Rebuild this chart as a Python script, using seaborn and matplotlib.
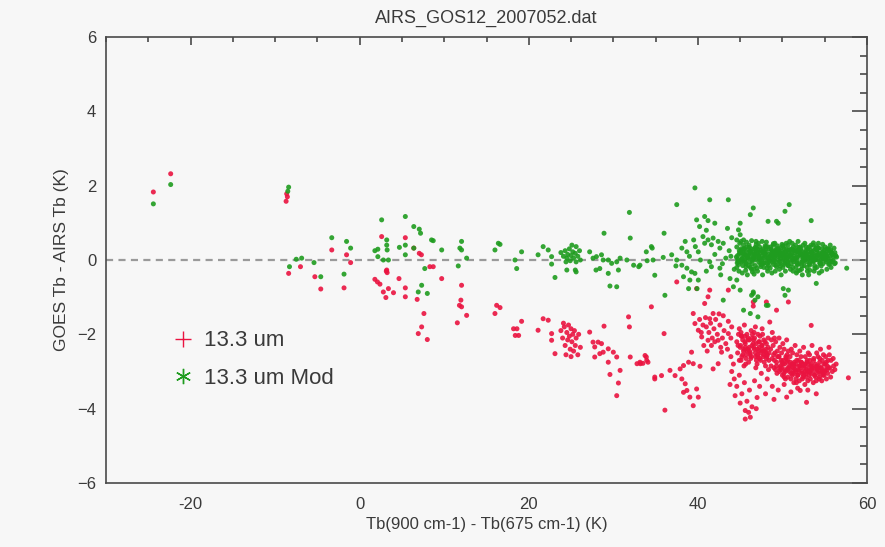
import numpy as np
import pandas as pd
import matplotlib
matplotlib.use("Agg")
import matplotlib.pyplot as plt
from matplotlib import font_manager as fm
from matplotlib.lines import Line2D
from matplotlib.ticker import MultipleLocator
import seaborn as sns

# ---- data: Tb(900)-Tb(675) difference vs GOES-AIRS Tb bias ----
# 13.3 um channel (red), sparse part
raw_sparse_x = [-24.4, -22.35, -8.63, -8.55, -8.7, -8.4, -7.0, -5.3, -4.6, -3.3, -1.55, -1.07, -1.85,
                2.6, 5.4, 3.2, 3.25, 3.15, 1.8, 2.1, 2.4, 2.8, 3.4, 3.1, 4.0, 4.65, 5.4, 5.4,
                6.4, 7.05, 7.3, 8.3, 8.7, 9.7, 6.8, 7.6, 7.33, 6.93, 8.0, 12.05, 11.97, 11.8, 12.05,
                12.65, 11.55, 16.0, 16.2, 16.6, 18.2, 18.6, 18.4, 18.8, 19.15, 21.1, 21.7, 22.3, 22.7,
                22.7, 23.1,
                23.8, 24.0, 24.2, 24.3, 24.5, 24.6, 24.7, 24.8, 24.9, 25.0, 25.1, 25.2, 25.3, 25.4,
                25.5, 25.6, 25.8, 25.9, 26.1, 24.4, 25.0, 24.1,
                27.2, 27.6, 27.8, 28.2, 28.6, 28.9, 27.8, 28.4, 28.8, 29.4, 30.0, 30.4, 29.4, 29.6,
                30.8, 30.6, 30.4, 31.8, 31.9, 32.0, 32.8, 33.2, 33.5, 34.1, 33.9, 34.5, 34.9,
                37.5, 39.85, 41.4, 41.2, 40.8, 43.6, 46.55, 46.55, 36.0, 33.75, 33.95, 33.15, 34.9,
                35.7, 36.7, 37.3, 37.9, 38.3, 38.9, 39.45, 40.25, 36.1, 38.1, 38.5, 38.7, 38.3, 39.05,
                39.45, 40.05, 39.85, 39.25, 39.45, 39.65, 40.05, 40.45, 41.0, 41.4, 41.8, 41.2, 41.6,
                42.4, 42.8, 41.8, 42.4, 57.8, 52.85, 50.5, 54.0, 52.1, 53.4, 50.7, 43.6, 48.5, 49.3,
                48.1]
raw_sparse_y = [1.83, 2.32, 1.78, 1.7, 1.58, -0.36, -0.18, -0.45, -0.78, 0.27, 0.14, -0.07, -0.75,
                0.63, 0.6, -0.27, -0.34, -0.3, -0.52, -0.59, -0.65, -0.86, -0.77, -1.01, -0.88, -0.5, -0.75, -0.99,
                0.32, 0.18, 0.14, -0.18, -0.18, -0.5, -1.06, -1.44, -1.8, -1.98, -2.14, -0.68, -1.08, -1.22, -1.26,
                -1.49, -1.69, -1.44, -1.22, -1.28, -1.85, -1.85, -2.03, -2.03, -1.65, -1.89, -1.58, -1.62, -1.98,
                -2.16, -2.52,
                -1.9, -2.1, -1.8, -2.3, -1.95, -2.15, -1.75, -2.05, -2.4, -1.85, -2.2, -2.0, -2.45, -1.9,
                -2.3, -2.1, -2.55, -2.0, -2.35, -2.55, -2.6, -1.7,
                -1.94, -2.21, -2.34, -2.21, -2.25, -1.78, -2.61, -2.52, -2.48, -2.39, -2.48, -2.61, -2.75, -3.08,
                -2.97, -3.31, -3.65, -1.53, -1.8, -2.61, -2.79, -2.79, -2.78, -2.75, -2.61, -1.26, -3.15,
                -0.59, -0.77, -0.81, -0.99, -1.17, -0.81, -1.13, -1.24, -1.98, -2.57, -2.7, -2.75, -3.2,
                -3.11, -2.97, -3.11, -2.93, -2.84, -2.75, -2.79, -2.86, -4.04, -3.2, -3.33, -3.51, -3.56, -3.69,
                -3.92, -3.69, -3.47, -2.48, -1.44, -1.71, -1.89, -2.07, -1.8, -1.58, -1.44, -2.16, -2.3,
                -2.16, -2.48, -2.93, -2.79, -3.17, -3.83, -3.69, -3.6, -3.51, -1.76, -1.13, -1.98, -1.67, -1.35,
                -1.13]

# 13.3 um channel (red), warm-scene clusters
raw_dense_x = [40.2, 40.6, 40.9, 41.3, 41.5, 41.9, 42.1, 42.3, 42.6, 42.9, 43.1, 43.3, 43.6, 43.9,
               42.0, 40.7, 41.1, 43.0, 42.7, 40.4, 41.7, 42.5, 44.0, 43.5,
               44.6, 44.7, 44.8, 44.9, 45.0, 45.1, 45.2, 45.3, 45.4, 45.45, 44.75, 45.15,
               45.6, 45.7, 45.8, 45.9, 46.0, 46.1, 46.2, 46.3, 46.4, 45.65, 45.95, 46.25, 46.45, 45.55,
               46.6, 46.7, 46.8, 46.9, 47.0, 47.1, 47.2, 47.3, 47.4, 46.65, 47.05, 47.35, 46.85, 47.25,
               47.6, 47.7, 47.8, 47.9, 48.0, 48.1, 48.2, 48.3, 48.4, 47.65, 48.05, 48.35, 47.85,
               48.6, 48.7, 48.8, 48.9, 49.0, 49.1, 49.2, 49.3, 49.4, 48.65, 49.05, 49.35, 48.95,
               49.6, 49.7, 49.8, 49.9, 50.0, 50.1, 50.2, 50.3, 50.4, 49.65, 50.05, 50.35, 49.85, 50.25,
               50.6, 50.7, 50.8, 50.9, 51.0, 51.1, 51.2, 51.3, 51.4, 50.65, 51.05, 51.35, 50.85, 51.25, 50.55,
               51.6, 51.7, 51.8, 51.9, 52.0, 52.1, 52.2, 52.3, 52.4, 51.65, 52.05, 52.35, 51.85, 52.25, 51.55,
               52.6, 52.7, 52.8, 52.9, 53.0, 53.1, 53.2, 53.3, 53.4, 52.65, 53.05, 53.35, 52.85, 53.25, 52.55,
               53.6, 53.7, 53.8, 53.9, 54.0, 54.1, 54.2, 54.3, 54.4, 53.65, 54.05, 54.35, 53.85, 54.25,
               54.6, 54.7, 54.8, 54.9, 55.0, 55.1, 55.2, 55.3, 55.4, 54.65, 55.05, 55.35, 54.85,
               55.6, 55.75, 55.9, 56.05, 56.2, 56.35, 55.7, 56.0, 55.55,
               45.5, 46.8, 47.6, 48.8, 49.6, 50.5, 51.5, 52.5, 53.5, 54.5, 55.5, 44.9,
               44.0, 44.3, 44.6, 44.9, 45.2, 45.5, 45.8, 46.1, 46.4, 46.7, 47.0, 47.3, 45.0, 45.6,
               45.6, 46.2, 46.0, 44.4, 47.5, 48.2, 48.8, 49.5, 50.2, 51.0, 51.8, 48.0, 49.0, 46.9,
               43.8, 44.2, 43.9, 53.0]
raw_dense_y = [-1.6, -1.75, -1.55, -1.95, -1.7, -1.85, -1.6, -2.0, -1.75, -2.1, -1.9, -2.25, -1.65, -2.1,
               -2.2, -2.3, -2.45, -1.5, -2.35, -1.95, -2.1, -1.45, -1.8, -2.4,
               -2.2, -2.5, -2.0, -2.7, -2.35, -1.95, -2.6, -2.15, -2.45, -2.85, -2.3, -2.05,
               -2.25, -2.55, -2.0, -2.4, -2.75, -2.15, -2.5, -1.9, -2.3, -2.8, -2.1, -2.65, -2.0, -2.05,
               -2.35, -2.1, -2.6, -2.25, -2.8, -2.0, -2.45, -2.2, -2.7, -1.95, -2.55, -2.05, -2.9, -2.35,
               -2.3, -2.6, -2.15, -2.45, -2.85, -2.25, -2.55, -2.1, -2.7, -2.0, -2.4, -2.95, -2.75,
               -2.4, -2.15, -2.65, -2.3, -2.9, -2.5, -2.2, -2.75, -2.45, -2.85, -2.1, -3.05, -2.55,
               -2.6, -2.35, -2.85, -2.5, -3.1, -2.7, -2.4, -2.95, -2.6, -3.0, -2.25, -3.2, -2.7, -2.8,
               -2.7, -2.45, -3.0, -2.6, -3.2, -2.8, -2.5, -3.05, -2.75, -3.15, -2.4, -3.3, -2.85, -2.95, -2.55,
               -2.8, -2.55, -3.1, -2.7, -3.25, -2.9, -2.6, -3.05, -2.8, -3.3, -2.45, -3.2, -2.95, -2.75, -3.0,
               -2.85, -2.6, -3.15, -2.75, -3.0, -2.9, -2.55, -3.2, -2.8, -3.35, -2.5, -3.05, -2.95, -2.7, -3.1,
               -2.9, -2.65, -3.1, -2.8, -3.25, -2.95, -2.6, -3.05, -2.75, -3.3, -2.5, -3.2, -3.0, -2.85,
               -2.9, -2.7, -3.1, -2.8, -3.0, -2.6, -3.2, -2.85, -2.7, -3.25, -2.95, -3.05, -2.55,
               -2.9, -2.7, -3.0, -2.85, -2.95, -2.8, -3.15, -2.65, -2.55,
               -1.75, -1.8, -1.85, -1.95, -2.1, -2.15, -2.3, -2.35, -2.3, -2.4, -2.35, -1.85,
               -3.0, -3.2, -3.4, -3.1, -3.6, -3.3, -3.8, -3.5, -3.95, -3.25, -3.7, -3.4, -3.85, -4.05,
               -4.28, -4.23, -4.1, -3.65, -3.05, -3.2, -3.4, -3.5, -3.35, -3.55, -3.45, -3.6, -3.75, -4.0,
               -3.35, -2.8, -2.6, -3.5]

# 13.3 um channel (red), cores of the two warm blobs
raw_core_x = [45.05, 45.3, 45.55, 45.8, 46.05, 46.3, 46.55, 46.8, 47.05, 47.3, 47.55, 47.8, 48.05, 48.3,
              45.18, 45.42, 45.68, 45.92, 46.18, 46.42, 46.68, 46.92, 47.18, 47.42, 47.68, 47.92, 48.18, 48.42,
              45.1, 45.6, 46.1, 46.6, 47.1, 47.6, 48.1,
              49.05, 49.3, 49.55, 49.8, 50.05, 50.3, 50.55, 50.8, 51.05, 51.3, 51.55, 51.8, 52.05,
              52.3, 52.55, 52.8, 53.05, 53.3, 53.55, 53.8, 54.05, 54.3, 54.55, 54.8, 55.05, 55.3,
              49.18, 49.42, 49.68, 49.92, 50.18, 50.42, 50.68, 50.92, 51.18, 51.42, 51.68, 51.92, 52.18,
              52.42, 52.68, 52.92, 53.18, 53.42, 53.68, 53.92, 54.18, 54.42, 54.68, 54.92, 55.18, 55.42,
              49.9, 50.6, 51.3, 52.0, 52.7, 53.4, 54.1, 54.8, 50.2, 51.6, 53.0, 54.4]
raw_core_y = [-2.3, -2.55, -2.2, -2.45, -2.35, -2.6, -2.25, -2.5, -2.4, -2.65, -2.3, -2.55, -2.5, -2.35,
              -2.05, -2.4, -2.65, -2.15, -2.55, -2.1, -2.4, -2.7, -2.2, -2.5, -2.45, -2.2, -2.6, -2.5,
              -2.7, -2.35, -2.45, -2.15, -2.6, -2.4, -2.65,
              -2.7, -2.85, -2.6, -2.95, -2.8, -3.0, -2.75, -2.9, -3.05, -2.8, -2.95, -3.1, -2.85,
              -3.0, -2.9, -3.05, -2.8, -3.0, -2.9, -3.1, -2.85, -3.0, -2.9, -3.05, -2.8, -2.95,
              -2.95, -2.6, -2.9, -2.75, -3.05, -2.65, -2.9, -2.75, -3.1, -2.85, -2.7, -3.0, -2.75,
              -3.15, -2.8, -2.7, -3.1, -2.85, -2.7, -3.15, -2.9, -2.65, -3.0, -3.1, -2.75, -2.9,
              -2.9, -2.95, -2.9, -2.85, -3.0, -2.95, -2.9, -3.0, -3.15, -3.2, -3.25, -3.15]

# 13.3 um Mod channel (green), sparse part
mod_sparse_x = [-24.4, -22.35, -8.4, -8.5, -8.3, -7.5, -6.86, -5.4, -4.6, -3.3, -1.55, -1.07, -1.85,
                2.6, 5.4, 3.2, 3.2, 3.25, 1.8, 2.15, 4.7, 5.4, 2.15, 2.8, 3.4,
                6.4, 7.05, 7.2, 5.4, 6.4, 8.5, 8.7, 9.7, 12.05, 11.85, 12.05, 12.65, 11.66, 16.0, 16.4,
                16.6, 18.37, 18.57, 19.15, 7.7, 7.33, 6.93, 8.0,
                21.1, 21.7, 22.3, 22.7, 22.7, 23.1,
                23.8, 24.1, 24.3, 24.5, 24.6, 24.8, 24.9, 25.0, 25.2, 25.3, 25.5, 25.6, 25.8, 26.0, 24.4,
                25.1, 25.6, 24.5, 25.5, 25.6, 26.1,
                27.2, 27.6, 28.0, 28.6, 28.8, 29.4, 29.8, 30.4, 30.8, 27.95, 28.4, 29.4, 30.6, 29.6, 30.4,
                28.9, 32.0, 31.9, 31.6, 32.4, 33.0, 34.0, 34.7, 33.9, 34.5,
                39.65, 37.5, 41.4, 43.6, 46.55, 50.8, 50.3, 46.2, 53.4, 48.3, 49.3, 49.5, 39.85, 40.8,
                41.2, 42.0, 36.0, 45.0, 44.8, 34.6, 33.15, 35.9, 36.9, 37.5, 34.9, 36.1, 37.4,
                38.1, 38.5, 38.7, 39.5, 39.7, 40.05, 40.6, 40.8, 41.2, 41.6, 41.8, 42.4, 42.6, 43.0,
                38.1, 38.7, 39.25, 39.65, 38.3, 39.05, 40.05, 38.9, 39.9, 41.4, 42.6, 41.6, 43.8, 44.6,
                44.2, 45.0, 43.0, 46.55, 46.35, 46.75, 48.1, 50.1, 50.7, 50.3, 54.0, 57.6, 45.0, 44.6,
                45.4, 46.55, 47.1, 48.3, 46.2, 47.1, 45.4,
                39.0, 40.3, 42.0, 43.3, 42.9, 43.7, 44.0, 41.0, 40.2, 43.5, 42.7, 41.0, 44.3, 43.9]
mod_sparse_y = [1.51, 2.03, 1.96, 1.85, -0.18, 0.02, 0.05, -0.07, -0.45, 0.6, 0.5, 0.32, -0.38,
                1.08, 1.17, 0.54, 0.4, 0.27, 0.25, 0.29, 0.34, 0.14, 0.09, 0.0, 0.0,
                0.9, 0.83, 0.72, 0.4, 0.32, 0.54, 0.52, 0.27, 0.5, 0.32, 0.27, 0.05, -0.16, 0.27, 0.45,
                0.42, 0.0, -0.23, 0.22, -0.23, -0.68, -0.86, -0.9,
                0.14, 0.36, 0.27, 0.09, -0.11, -0.47,
                0.2, 0.1, 0.25, 0.05, 0.15, 0.3, -0.02, 0.12, 0.22, 0.05, 0.18, -0.05, 0.1, 0.25, -0.05,
                0.4, 0.36, -0.27, -0.27, -0.32, 0.0,
                0.22, 0.05, 0.09, 0.14, 0.0, 0.0, -0.09, -0.05, 0.05, -0.27, -0.23, -0.36, -0.27, -0.7, -0.72,
                0.72, 0.59, 1.28, 0.0, -0.14, -0.18, -0.02, 0.0, 0.22, 0.36,
                1.94, 1.49, 1.62, 1.62, 1.4, 1.49, 1.31, 1.22, 1.06, 1.04, 1.04, 0.99, 1.08, 1.17,
                1.06, 0.99, 0.72, 0.99, 0.81, 0.32, -0.14, 0.07, 0.14, 0.0, -0.41, -0.95, -0.16,
                0.32, 0.5, 0.22, 0.54, 0.36, 0.22, 0.63, 0.45, 0.54, 0.41, 0.59, 0.5, 0.32, 0.45,
                -0.14, -0.22, -0.32, -0.36, -0.45, -0.54, -0.54, -0.77, -0.77, -0.05, -0.22, -0.18, -0.5, -0.54,
                -0.72, -0.81, -1.08, -0.86, -0.95, -1.08, -1.22, -0.77, -0.81, -0.95, -0.63, -0.22, 0.68, 0.54,
                0.54, -0.9, -0.99, -1.22, -1.44, -1.53, -1.35,
                0.1, 0.0, 0.15, 0.05, -0.1, 0.25, 0.6, 0.8, 0.9, 0.85, -0.4, -0.3, -0.25, 0.1]

# 13.3 um Mod channel (green), warm-scene cluster
mod_dense_x = [44.6, 44.7, 44.8, 44.9, 44.6, 44.95, 44.7, 44.85,
               45.1, 45.2, 45.3, 45.05, 45.4, 45.25, 45.45, 45.15, 45.35, 45.1,
               45.6, 45.7, 45.8, 45.55, 45.9, 45.65, 45.95, 45.75, 45.85, 45.6,
               46.1, 46.2, 46.3, 46.05, 46.4, 46.25, 46.45, 46.15, 46.35, 46.1,
               46.6, 46.7, 46.8, 46.55, 46.9, 46.65, 46.95, 46.75, 46.85, 46.6,
               47.1, 47.2, 47.3, 47.05, 47.4, 47.25, 47.45, 47.15, 47.35, 47.1,
               47.6, 47.7, 47.8, 47.55, 47.9, 47.65, 47.95, 47.75, 47.85, 47.6,
               48.1, 48.2, 48.3, 48.05, 48.4, 48.25, 48.45, 48.15, 48.35, 48.1,
               48.6, 48.7, 48.8, 48.55, 48.9, 48.65, 48.95, 48.75, 48.85, 48.6,
               49.1, 49.2, 49.3, 49.05, 49.4, 49.25, 49.45, 49.15, 49.35, 49.1,
               49.6, 49.7, 49.8, 49.55, 49.9, 49.65, 49.95, 49.75, 49.85, 49.6,
               50.1, 50.2, 50.3, 50.05, 50.4, 50.25, 50.45, 50.15, 50.35, 50.1,
               50.6, 50.7, 50.8, 50.55, 50.9, 50.65, 50.95, 50.75, 50.85, 50.6,
               51.1, 51.2, 51.3, 51.05, 51.4, 51.25, 51.45, 51.15, 51.35, 51.1,
               51.6, 51.7, 51.8, 51.55, 51.9, 51.65, 51.95, 51.75, 51.85, 51.6,
               52.1, 52.2, 52.3, 52.05, 52.4, 52.25, 52.45, 52.15, 52.35, 52.1,
               52.6, 52.7, 52.8, 52.55, 52.9, 52.65, 52.95, 52.75, 52.85, 52.6,
               53.1, 53.2, 53.3, 53.05, 53.4, 53.25, 53.45, 53.15, 53.35, 53.1,
               53.6, 53.7, 53.8, 53.55, 53.9, 53.65, 53.95, 53.75, 53.85, 53.6,
               54.1, 54.2, 54.3, 54.05, 54.4, 54.25, 54.45, 54.15, 54.35, 54.1,
               54.6, 54.7, 54.8, 54.55, 54.9, 54.65, 54.95, 54.75, 54.85,
               55.1, 55.2, 55.3, 55.05, 55.4, 55.25, 55.45, 55.15,
               55.6, 55.7, 55.8, 55.9, 56.0, 56.2, 56.4, 55.75, 56.1, 55.65]
mod_dense_y = [0.35, 0.12, -0.05, 0.25, -0.2, 0.45, 0.02, -0.3,
               0.3, 0.05, -0.15, 0.18, 0.4, -0.35, 0.1, -0.05, 0.22, 0.5,
               0.15, -0.1, 0.35, 0.0, 0.2, -0.28, 0.05, 0.48, -0.4, 0.28,
               0.1, -0.2, 0.3, 0.4, 0.0, 0.18, -0.32, -0.05, 0.52, 0.25,
               0.05, 0.3, -0.15, 0.2, 0.42, -0.38, 0.1, 0.0, 0.25, -0.25,
               0.15, -0.05, 0.35, -0.3, 0.2, 0.05, -0.18, 0.45, 0.0, 0.28,
               0.1, 0.3, -0.2, 0.0, 0.18, -0.4, 0.38, 0.05, -0.08, 0.5,
               0.22, -0.1, 0.05, 0.35, 0.15, -0.3, 0.3, 0.0, -0.15, 0.48,
               0.1, 0.28, -0.05, -0.22, 0.4, 0.0, 0.15, -0.35, 0.2, 0.35,
               0.05, 0.25, -0.18, 0.15, 0.38, -0.05, 0.1, -0.3, 0.2, 0.45,
               0.2, -0.1, 0.32, 0.0, 0.12, -0.25, 0.42, 0.05, -0.4, 0.28,
               0.0, 0.3, 0.1, -0.2, 0.22, -0.08, 0.45, 0.15, -0.3, 0.38,
               0.12, -0.15, 0.28, 0.05, 0.0, 0.4, -0.25, 0.2, 0.5, -0.05,
               0.18, 0.0, 0.35, -0.1, 0.1, -0.3, 0.25, 0.45, -0.05, 0.3,
               0.05, 0.22, -0.12, 0.4, 0.15, -0.35, 0.3, 0.0, 0.5, -0.2,
               0.1, 0.3, -0.05, 0.2, 0.0, -0.25, 0.4, 0.15, -0.4, 0.35,
               0.2, 0.0, 0.35, -0.15, 0.1, 0.45, -0.3, 0.25, -0.05, 0.08,
               0.15, -0.1, 0.28, 0.02, 0.4, -0.28, 0.1, 0.35, -0.02, -0.4,
               0.05, 0.25, -0.15, 0.18, 0.0, 0.4, 0.3, -0.3, 0.12, -0.05,
               0.2, 0.0, 0.32, -0.2, 0.1, 0.45, -0.08, 0.12, -0.35, 0.28,
               0.1, 0.3, -0.1, 0.0, 0.2, -0.3, 0.05, 0.42, 0.15,
               0.15, -0.05, 0.25, 0.35, 0.05, -0.25, 0.18, 0.0,
               0.1, 0.28, -0.05, 0.15, 0.0, 0.2, 0.08, -0.2, 0.32, 0.4]

# 13.3 um Mod channel (green), core of the warm cluster
mod_core_x = [44.55, 44.82, 45.02, 45.28, 45.48, 45.72, 45.98, 46.22, 46.48, 46.72,
              46.98, 47.22, 47.48, 47.72, 47.98, 48.22, 48.48, 48.72, 48.98, 49.22,
              49.48, 49.72, 49.98, 50.22, 50.48, 50.72, 50.98, 51.22, 51.48, 51.72,
              51.98, 52.22, 52.48, 52.72, 52.98, 53.22, 53.48, 53.72, 53.98, 54.22,
              54.48, 54.72, 54.98, 55.22, 55.48, 55.72, 55.98, 56.25,
              44.65, 44.92, 45.18, 45.42, 45.68, 45.92, 46.18, 46.42, 46.68, 46.92,
              47.18, 47.42, 47.68, 47.92, 48.18, 48.42, 48.68, 48.92, 49.18, 49.42,
              49.68, 49.92, 50.18, 50.42, 50.68, 50.92, 51.18, 51.42, 51.68, 51.92,
              52.18, 52.42, 52.68, 52.92, 53.18, 53.42, 53.68, 53.92, 54.18, 54.42,
              54.68, 54.92, 55.18, 55.42, 55.68, 55.92, 56.3,
              44.73, 45.37, 45.84, 46.33, 46.77, 47.29, 47.83, 48.37, 48.83, 49.29,
              49.77, 50.33, 50.79, 51.27, 51.83, 52.31, 52.77, 53.29, 53.83, 54.31,
              54.77, 55.29, 55.83, 56.15,
              45.12, 45.63, 46.09, 46.58, 47.07, 47.56, 48.03, 48.59, 49.04, 49.57,
              50.03, 50.58, 51.03, 51.57, 52.03, 52.58, 53.03, 53.57, 54.03, 54.58,
              55.03, 55.57, 46.87, 48.93, 51.77, 53.67]
mod_core_y = [0.08, -0.12, 0.2, -0.02, 0.3, 0.12, -0.15, 0.24, 0.02, 0.16,
              -0.22, 0.1, 0.26, -0.08, 0.14, 0.36, -0.02, 0.2, 0.06, -0.14,
              0.3, 0.1, 0.22, -0.12, 0.06, 0.26, 0.14, -0.2, 0.2, 0.08,
              -0.1, 0.24, 0.04, 0.18, 0.3, -0.14, 0.22, 0.1, 0.02, 0.32,
              -0.1, 0.18, 0.26, 0.08, -0.12, 0.22, 0.1, -0.08,
              -0.08, 0.18, 0.02, 0.3, -0.18, 0.08, 0.2, -0.1, 0.14, 0.32,
              0.06, -0.12, 0.2, 0.1, -0.22, 0.06, 0.28, -0.12, 0.22, 0.14,
              -0.05, 0.18, 0.04, 0.3, -0.15, 0.12, 0.26, 0.04, -0.08, 0.34,
              0.16, -0.04, 0.12, -0.2, 0.08, 0.2, -0.02, 0.3, 0.14, -0.1,
              0.2, 0.02, 0.12, 0.3, -0.02, 0.16, 0.12,
              -0.02, 0.16, 0.06, -0.24, 0.34, 0.04, 0.22, -0.06, 0.12, 0.3,
              -0.16, 0.2, 0.1, 0.02, 0.26, -0.16, 0.14, 0.06, -0.22, 0.18,
              0.04, 0.3, 0.2, -0.1,
              0.26, -0.06, 0.34, 0.1, 0.22, -0.12, 0.3, 0.12, -0.02, 0.2,
              0.38, -0.04, 0.1, 0.28, -0.28, 0.06, 0.22, 0.0, 0.36, -0.16,
              0.08, -0.1, 0.5, 0.44, -0.3, 0.46]

series_labels = ["13.3 um", "13.3 um Mod"]
title_text = "AIRS_GOS12_2007052.dat"
x_label = "Tb(900 cm-1) - Tb(675 cm-1) (K)"
y_label = "GOES Tb - AIRS Tb (K)"

# ---- table for seaborn ----
df = pd.concat([
    pd.DataFrame({"dTb": raw_sparse_x + raw_dense_x + raw_core_x,
                  "bias": raw_sparse_y + raw_dense_y + raw_core_y,
                  "channel": series_labels[0]}),
    pd.DataFrame({"dTb": mod_sparse_x + mod_dense_x + mod_core_x,
                  "bias": mod_sparse_y + mod_dense_y + mod_core_y,
                  "channel": series_labels[1]}),
], ignore_index=True)

RED = "#ea1340"
GREEN = "#1f9c1f"
INK = "#3a3a3a"
BG = "#f7f7f7"

sns.set_theme(style="white")
names = {f.name for f in fm.fontManager.ttflist}
family = "Liberation Sans" if "Liberation Sans" in names else "DejaVu Sans"
plt.rcParams["font.family"] = [family, "DejaVu Sans"]

fig = plt.figure(figsize=(8.85, 5.47), dpi=100, facecolor=BG)
ax = fig.add_axes([106 / 885, 1 - 483 / 547, 761 / 885, 446 / 547], facecolor=BG)

# zero reference line
ax.axhline(0, color="#9a9a9a", lw=1.6, ls=(0, (3.2, 2.4)), zorder=1)

sns.scatterplot(data=df, x="dTb", y="bias", hue="channel",
                palette={series_labels[0]: RED, series_labels[1]: GREEN},
                marker="o", s=13, linewidth=0, alpha=0.9, legend=False, ax=ax, zorder=2)

ax.set_xlim(-30, 60)
ax.set_ylim(-6, 6)
ax.xaxis.set_minor_locator(MultipleLocator(5))
ax.yaxis.set_major_locator(MultipleLocator(2))
ax.yaxis.set_minor_locator(MultipleLocator(0.5))
ax.set_xticks([-20, 0, 20, 40, 60])
ax.set_xticklabels(["-20", "0", "20", "40", "60"])

for s in ax.spines.values():
    s.set_color("#4a4a4a")
    s.set_linewidth(1.2)

ax.tick_params(axis="both", which="both", direction="in", top=True, right=True,
               color="#4a4a4a", labelcolor=INK, labelsize=12)
ax.tick_params(axis="y", which="major", length=11, width=1.2, pad=7)
ax.tick_params(axis="y", which="minor", length=5, width=1.2)
ax.tick_params(axis="x", which="major", length=6, width=1.2, pad=10)
ax.tick_params(axis="x", which="minor", length=3.5, width=1.2)

ax.set_xlabel(x_label, fontsize=12, color=INK, labelpad=4)
ax.set_ylabel(y_label, fontsize=12.5, color=INK, labelpad=6)
ax.set_title(title_text, fontsize=13, color=INK, pad=10)

handles = [
    Line2D([0], [0], marker="+", ls="none", color=RED, ms=11, mew=1.0),
    Line2D([0], [0], marker=(6, 2, 0), ls="none", color=GREEN, ms=11, mew=1.0),
]
leg = ax.legend(handles, series_labels, loc="upper left", bbox_to_anchor=(0.057, 0.387),
                frameon=False, fontsize=16, handlelength=1.2, handletextpad=0.35,
                labelspacing=0.75)
for t in leg.get_texts():
    t.set_color(INK)

fig.savefig("out.png", dpi=100, facecolor=BG)
